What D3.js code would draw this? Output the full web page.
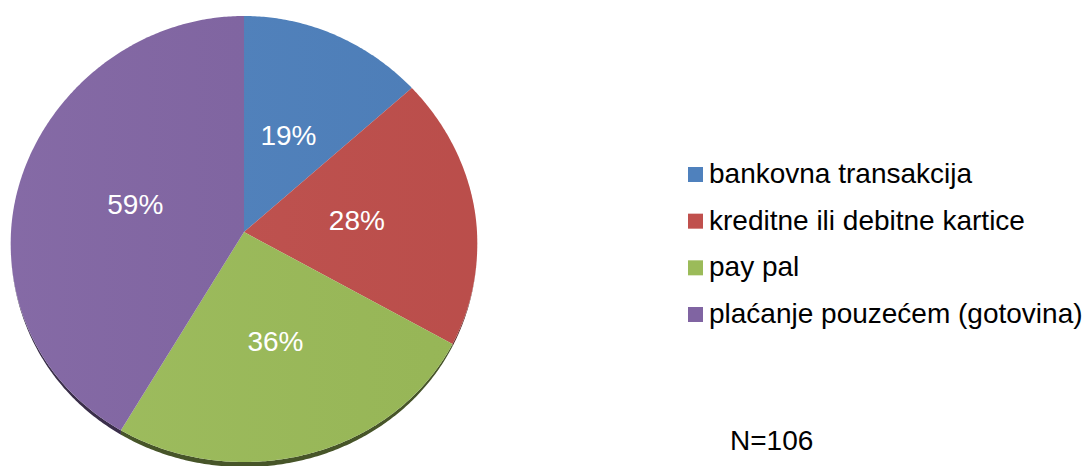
<!DOCTYPE html>
<html>
<head>
<meta charset="utf-8">
<title>Pie</title>
<script src="https://d3js.org/d3.v7.min.js"></script>
<style>
  body { margin: 0; background: #fff; }
  svg { display: block; font-family: "Liberation Sans", Arial, sans-serif; }
</style>
</head>
<body>
<div id="chart"></div>
<script>
// ---------------- data ----------------
var categories = ["bankovna transakcija", "kreditne ili debitne kartice", "pay pal", "plaćanje pouzećem (gotovina)"];
var values = [19, 28, 36, 59];
var valueLabels = ["19%", "28%", "36%", "59%"];
var sampleNote = "N=106";
var colors = ["#4f81bd", "#c0504d", "#9bbb59", "#8064a2"];

// ---------------- layout ----------------
var W = 1086, H = 466;
var cx = 244, cy = 232, rx = 233, ryTop = 216, ryBot = 230, depth = 5;

var svg = d3.select("#chart").append("svg").attr("width", W).attr("height", H);

// tilted pie: top face a bit farther away than the bottom
function proj(a, s) {
    var c = Math.cos(a), sn = Math.sin(a), k = 1 - 0.05 * c;
    return [cx + s * rx * sn * k, cy - s * (c > 0 ? ryTop : ryBot) * c];
}

var pie = d3.pie().sort(null).value(function (d) { return d; });
var arcs = pie(values);
var line = d3.line();

function rim(a0, a1, s, off) {
    var n = Math.max(2, Math.ceil((a1 - a0) / 0.01));
    return d3.range(n + 1).map(function (i) {
        var a = a0 + (a1 - a0) * i / n;
        var p = proj(a, s);
        if (off) p[1] += depth * Math.max(0, -Math.cos(a));
        return p;
    });
}

// side (depth) of the pie
arcs.forEach(function (d, i) {
    var top = rim(d.startAngle, d.endAngle, 1, false);
    var bot = rim(d.startAngle, d.endAngle, 1, true).reverse();
    svg.append("path")
        .attr("d", line(top.concat(bot)) + "Z")
        .attr("fill", d3.rgb(colors[i]).darker(2.2));
});

// top faces
var defs = svg.append("defs");
var grad = defs.append("linearGradient").attr("id", "shade")
    .attr("x1", "0").attr("y1", "0").attr("x2", "1").attr("y2", "0");
grad.append("stop").attr("offset", "0").attr("stop-color", "#fff").attr("stop-opacity", 0.04);
grad.append("stop").attr("offset", "1").attr("stop-color", "#000").attr("stop-opacity", 0.03);

arcs.forEach(function (d, i) {
    var pts = [proj(0, 0)].concat(rim(d.startAngle, d.endAngle, 1, false));
    svg.append("path")
        .attr("d", line(pts) + "Z")
        .attr("fill", colors[i]);
});
svg.append("path")
    .attr("d", line(rim(0, 2 * Math.PI, 1, false)) + "Z")
    .attr("fill", "url(#shade)");

// value labels
arcs.forEach(function (d, i) {
    var p = proj((d.startAngle + d.endAngle) / 2, 0.49);
    svg.append("text")
        .attr("x", p[0]).attr("y", p[1])
        .attr("dy", "0.36em")
        .attr("text-anchor", "middle")
        .attr("fill", "#fff")
        .style("font-size", "28px")
        .text(valueLabels[i]);
});

// legend
var ly = d3.scalePoint().domain(categories).range([183, 323]);
var lg = svg.selectAll(".legend").data(categories).enter().append("g")
    .attr("class", "legend")
    .attr("transform", function (d) { return "translate(688," + ly(d) + ")"; });
lg.append("rect")
    .attr("x", 0).attr("y", -16).attr("width", 15).attr("height", 15)
    .attr("fill", function (d, i) { return colors[i]; });
lg.append("text")
    .attr("x", 21).attr("y", 0)
    .style("font-size", "28px")
    .attr("fill", "#000")
    .text(function (d) { return d; });

svg.append("text")
    .attr("x", 730).attr("y", 450)
    .style("font-size", "28px")
    .attr("fill", "#000")
    .text(sampleNote);
</script>
</body>
</html>
